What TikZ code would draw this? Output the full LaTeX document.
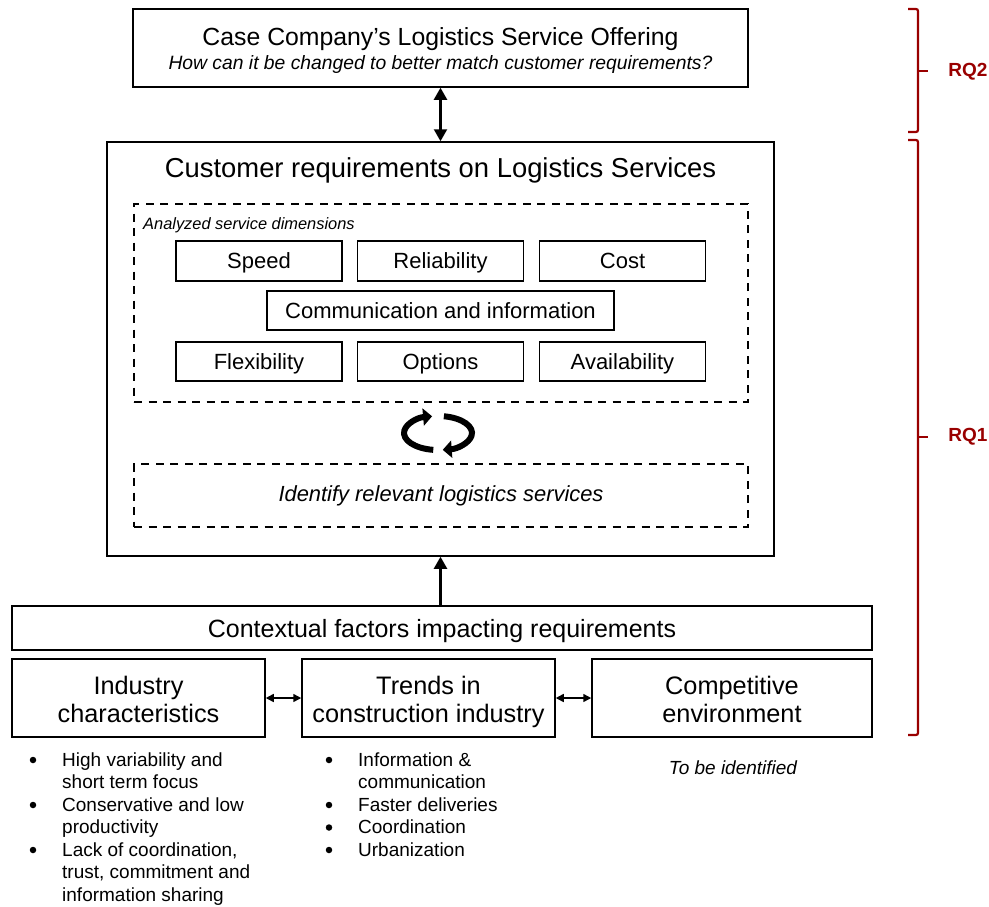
\documentclass[tikz,border=0pt]{standalone}
\usepackage{fontspec}
\setmainfont{Liberation Sans}
\usetikzlibrary{arrows.meta}
\definecolor{rqred}{RGB}{153,0,0}
\tikzset{
  box/.style={draw=black, line width=1.5pt, minimum width=#1, inner sep=0pt},
  dbox/.style={draw=black, line width=2pt, dash pattern=on 8pt off 6.5pt, inner sep=0pt},
  plain/.style={inner sep=0pt},
  f/.style={font=\fontsize{#1}{#1}\selectfont},
  blt/.style={inner sep=0pt, anchor=base west, font=\fontsize{19}{20}\selectfont},
  dot/.style={circle, fill=black, inner sep=0pt, minimum size=6.5pt},
  rq/.style={draw=rqred, line width=2.2pt, rounded corners=2pt},
  rqlab/.style={text=rqred, inner sep=0pt, font=\fontsize{19}{19}\selectfont\bfseries},
  big/.style={-{Triangle[length=12pt,width=13pt]}, line width=2.2pt},
  small/.style={{Triangle[length=8pt,width=8pt]}-{Triangle[length=8pt,width=8pt]}, line width=1.5pt},
  cyc/.style={-{Triangle[length=9pt,width=17pt]}, line width=6pt},
  inbox/.style={box=166pt, font=\fontsize{22}{22}\selectfont, text height=15pt, text depth=0pt},
  ctxtext/.style={inner sep=0pt, align=center, anchor=base, font=\fontsize{25.3}{28}\selectfont},
}
\begin{document}
\begin{tikzpicture}[x=1pt,y=-1pt]
\useasboundingbox (0,0) rectangle (989,906);

% top box
\node[box=615pt, minimum height=78pt] (top) at (440.5,48) {};
\node[plain, f=24.8, anchor=base] (toptitle) at (440.5,45.5) {Case Company’s Logistics Service Offering};
\node[plain, font=\fontsize{19.3}{19.3}\selectfont\itshape, anchor=base] (topsub) at (440.5,69) {How can it be changed to better match customer requirements?};

% big box
\node[box=667pt, minimum height=414pt] (bigb) at (440.5,349) {};
\node[plain, f=27.4, anchor=base] (bigtitle) at (440.5,177.5) {Customer requirements on Logistics Services};

% dashed box 1
\node[dbox, minimum width=614pt, minimum height=198pt] (dim) at (441,303) {};
\node[plain, anchor=base west, font=\fontsize{16.4}{16}\selectfont\itshape] (dimlab) at (143,229) {Analyzed service dimensions};

\node[inbox, minimum height=40pt] (speed) at (259,261) {Speed};
\node[inbox, minimum height=40pt] (rel) at (440.5,261) {Reliability};
\node[inbox, minimum height=40pt] (cost) at (622.5,261) {Cost};
\node[inbox, box=347pt, minimum height=39pt] (comm) at (440.5,310.5) {Communication and information};
\node[inbox, minimum height=39pt] (flex) at (259,361.5) {Flexibility};
\node[inbox, minimum height=39pt] (opt) at (440.5,361.5) {Options};
\node[inbox, minimum height=39pt] (avail) at (622.5,361.5) {Availability};

% cycle arrows
\coordinate (cc) at (438,433);
\draw[cyc] (cc) ++(262:34pt and 17pt) arc[start angle=262, end angle=100, x radius=34pt, y radius=17pt];
\draw[cyc] (cc) ++(80:34pt and 17pt) arc[start angle=80, end angle=-82, x radius=34pt, y radius=17pt];

% dashed box 2
\node[dbox, minimum width=614pt, minimum height=63pt, font=\fontsize{21.9}{21.9}\selectfont\itshape] (ident) at (441,495.5) {Identify relevant logistics services};

% context
\node[box=860pt, minimum height=44pt, font=\fontsize{25}{25}\selectfont, text height=18pt, text depth=0pt] (ctx) at (442,628) {Contextual factors impacting requirements};
\node[box=253pt, minimum height=78pt] (ind) at (138.5,698) {};
\node[box=253pt, minimum height=78pt] (trd) at (428.5,698) {};
\node[box=280pt, minimum height=78pt] (cmp) at (732,698) {};
\node[ctxtext] (indt) at (138.5,722) {Industry\\characteristics};
\node[ctxtext] (trdt) at (428.5,722) {Trends in\\construction industry};
\node[ctxtext] (cmpt) at (732,722) {Competitive\\environment};

% connectors
\draw[big, {Triangle[length=12pt,width=13pt]}-{Triangle[length=12pt,width=13pt]}] (top.south) -- (bigb.north);
\draw[big] (bigb.south |- ctx.north) -- (bigb.south);
\draw[small] (ind.east) -- (trd.west);
\draw[small] (trd.east) -- (cmp.west);

% bullets left
\node[dot] (b1) at (33,760) {};
\node[blt] (l1) at (62,766) {High variability and};
\node[blt] (l2) at (62,788.5) {short term focus};
\node[dot] (b2) at (33,805) {};
\node[blt] (l3) at (62,811) {Conservative and low};
\node[blt] (l4) at (62,833.5) {productivity};
\node[dot] (b3) at (33,850) {};
\node[blt] (l5) at (62,856) {Lack of coordination,};
\node[blt] (l6) at (62,878.5) {trust, commitment and};
\node[blt] (l7) at (62,901) {information sharing};

% bullets middle
\node[dot] (m1b) at (329,760) {};
\node[blt] (m1) at (358,766) {Information \&};
\node[blt] (m2) at (358,788.5) {communication};
\node[dot] (m3b) at (329,805) {};
\node[blt] (m3) at (358,811) {Faster deliveries};
\node[dot] (m4b) at (329,827.5) {};
\node[blt] (m4) at (358,833.5) {Coordination};
\node[dot] (m5b) at (329,850) {};
\node[blt] (m5) at (358,856) {Urbanization};

\node[plain, font=\fontsize{19}{19}\selectfont\itshape, anchor=base] (tbi) at (733,774.5) {To be identified};

% RQ braces
\draw[rq] (908,9) -- (918,9) -- (918,132) -- (908,132);
\draw[rq] (918,71) -- (928,71);
\node[rqlab] (rq2) at (968,72) {RQ2};
\draw[rq] (908,140) -- (918,140) -- (918,735) -- (908,735);
\draw[rq] (918,437) -- (928,437);
\node[rqlab] (rq1) at (968,437) {RQ1};
\end{tikzpicture}
\end{document}
